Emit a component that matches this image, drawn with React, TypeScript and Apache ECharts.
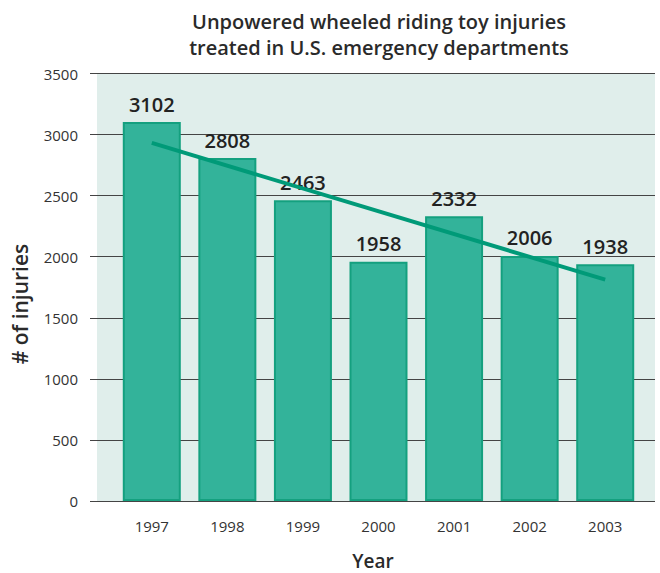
import React, { useEffect, useRef } from "react";
import * as echarts from "echarts";

const years = ["1997", "1998", "1999", "2000", "2001", "2002", "2003"];
const injuries = [3102, 2808, 2463, 1958, 2332, 2006, 1938];
const trend = [2932, null, null, null, null, null, 1812];
const yTicks = { min: 0, max: 3500, interval: 500 };

export default function App() {
  const ref = useRef<HTMLDivElement>(null);
  useEffect(() => {
    document.body.style.margin = "0";
    const chart = echarts.init(ref.current!, null, { renderer: "svg" });
    const font = "'Open Sans', 'Noto Sans', sans-serif";
    chart.setOption({
      animation: false,
      backgroundColor: "#ffffff",
      textStyle: { fontFamily: font },
      title: {
        text: "Unpowered wheeled riding toy injuries\ntreated in U.S. emergency departments",
        left: 374,
        textAlign: "center",
        top: 3,
        textStyle: { fontSize: 20, fontWeight: 600, color: "#2a2a2a", lineHeight: 26, fontFamily: font },
      },
      graphic: [
        {
          type: "rect",
          z: -10,
          silent: true,
          shape: { x: 97, y: 73, width: 558, height: 428 },
          style: { fill: "#e0eeeb" },
        },
        {
          type: "text",
          x: 373,
          y: 561,
          style: {
            text: "Year",
            align: "center",
            verticalAlign: "middle",
            fontSize: 19,
            lineHeight: 20,
            fontWeight: 600,
            fill: "#2a2a2a",
            fontFamily: font,
          },
        },
        {
          type: "text",
          x: 20,
          y: 304,
          rotation: Math.PI / 2,
          style: {
            text: "# of injuries",
            align: "center",
            verticalAlign: "middle",
            fontSize: 21,
            lineHeight: 22,
            fontWeight: 600,
            fill: "#2a2a2a",
            fontFamily: font,
          },
        },
      ],
      grid: [
        { left: 114, right: 17, top: 73.5, bottom: 72, containLabel: false, outerBoundsMode: "none" },
        { left: 90, right: 5, top: 73.5, bottom: 72, containLabel: false, outerBoundsMode: "none" },
      ],
      xAxis: [
        {
          type: "category",
          gridIndex: 0,
          data: years,
          axisLine: { show: false },
          axisTick: { show: false },
          axisLabel: { color: "#333", fontSize: 15, margin: 17, fontFamily: font },
        },
        { type: "category", gridIndex: 1, data: years, show: false },
      ],
      yAxis: [
        {
          type: "value",
          gridIndex: 0,
          ...yTicks,
          show: false,
          splitLine: { show: false },
        },
        {
          type: "value",
          gridIndex: 1,
          ...yTicks,
          axisLine: { show: false },
          axisTick: { show: false },
          axisLabel: {
            color: "#333",
            fontSize: 15,
            margin: 12,
            fontFamily: font,
            formatter: (v: number) => String(v),
          },
          splitLine: { show: true, lineStyle: { color: "#444", width: 1.2 } },
        },
      ],
      series: [
        {
          type: "bar",
          xAxisIndex: 0,
          yAxisIndex: 0,
          data: injuries,
          barWidth: 58,
          z: 3,
          itemStyle: { color: "#33b39a", borderColor: "#14a07f", borderWidth: 2 },
          label: {
            show: true,
            position: "top",
            distance: 8,
            fontSize: 20,
            fontWeight: 600,
            color: "#222",
            fontFamily: font,
          },
        },
        {
          type: "line",
          xAxisIndex: 0,
          yAxisIndex: 0,
          data: trend,
          connectNulls: true,
          symbol: "none",
          z: 4,
          lineStyle: { color: "#009a78", width: 4 },
        },
      ],
    });
    return () => chart.dispose();
  }, []);
  return <div ref={ref} style={{ width: 660, height: 573 }} />;
}
